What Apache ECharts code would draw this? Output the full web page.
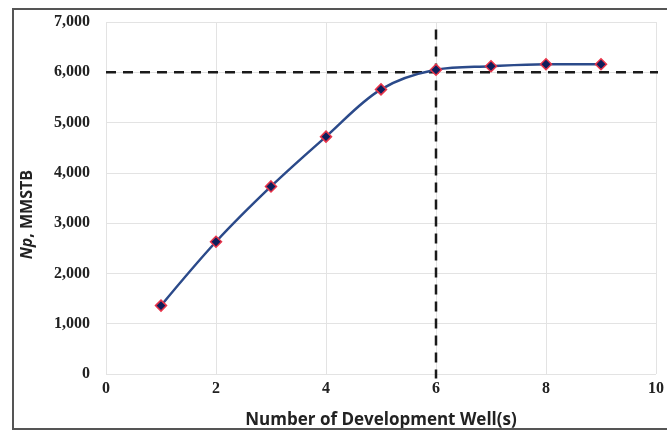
<!DOCTYPE html>
<html><head><meta charset="utf-8">
<script src="https://cdn.jsdelivr.net/npm/echarts@6/dist/echarts.min.js"></script>
<style>html,body{margin:0;padding:0;background:#fff}#c{width:667px;height:434px}
#frame{position:absolute;left:12px;top:8px;width:660px;height:422px;border:2px solid #555;box-sizing:border-box;pointer-events:none}</style>
</head><body><div id="c"></div><div id="frame"></div>
<script>
const wells = [1, 2, 3, 4, 5, 6, 7, 8, 9];
const np = [1360, 2630, 3730, 4720, 5660, 6050, 6120, 6160, 6160];
const cutoffNp = 6000;
const cutoffWells = 6;
const xTicks = [0, 2, 4, 6, 8, 10];
const yTicks = [0, 1000, 2000, 3000, 4000, 5000, 6000, 7000];

const chart = echarts.init(document.getElementById('c'));
const serif = 'Liberation Serif';
chart.setOption({
  animation: false,
  grid: {left: 106, right: 7, top: 22, bottom: 60},
  graphic: [{
    type: 'text', left: 19, top: 170, rotation: Math.PI / 2,
    style: {
      text: '{i|Np}, MMSTB', fill: '#222',
      font: 'bold 16px "Open Sans"',
      rich: {i: {fontStyle: 'italic', fontWeight: 'bold', fontSize: 16, fontFamily: 'Open Sans', fill: '#222'}}
    }
  }],
  xAxis: {
    type: 'value', min: 0, max: 10, interval: 2,
    axisLine: {show: false}, axisTick: {show: false},
    splitLine: {lineStyle: {color: '#e3e3e3', width: 1}},
    axisLabel: {color: '#222', fontFamily: serif, fontWeight: 'bold', fontSize: 16, margin: 7},
    name: 'Number of Development Well(s)', nameLocation: 'middle', nameGap: 38,
    nameTextStyle: {color: '#222', fontFamily: 'Open Sans', fontWeight: 'bold', fontSize: 17}
  },
  yAxis: {
    type: 'value', min: 0, max: 7000, interval: 1000,
    axisLine: {show: false}, axisTick: {show: false},
    splitLine: {lineStyle: {color: '#e3e3e3', width: 1}},
    axisLabel: {color: '#222', fontFamily: serif, fontWeight: 'bold', fontSize: 16, margin: 16,
      formatter: v => v.toLocaleString('en-US')}
  },
  series: [
    {
      type: 'line', data: [[0, cutoffNp], [10.15, cutoffNp]], clip: false, symbol: 'none',
      lineStyle: {color: '#1a1a1a', width: 2.5, type: [10, 7]}, z: 3
    },
    {
      type: 'line', data: [[cutoffWells, 6850], [cutoffWells, -90]], clip: false, symbol: 'none',
      lineStyle: {color: '#1a1a1a', width: 2.5, type: [10, 7]}, z: 3
    },
    {
      type: 'line', data: wells.map((w, i) => [w, np[i]]), smooth: 0.35,
      symbol: 'diamond', symbolSize: 11,
      lineStyle: {color: '#2b4a8a', width: 2.5},
      itemStyle: {color: '#0d1f5c', borderColor: '#e8344a', borderWidth: 1.5}, z: 5
    }
  ]
});
</script></body></html>
